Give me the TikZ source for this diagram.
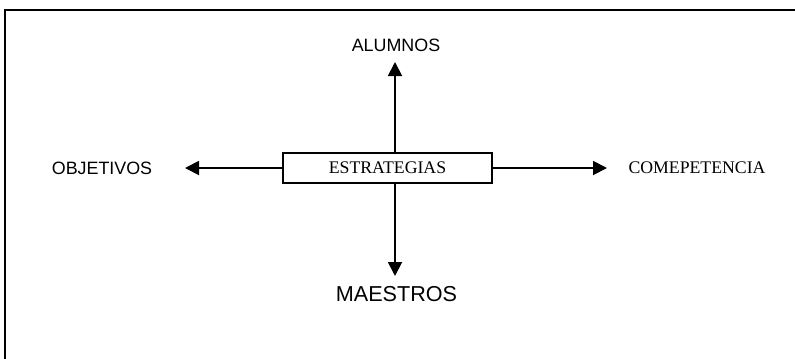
\documentclass[tikz,border=0pt]{standalone}
\usepackage{fontspec}
\setmainfont{Liberation Serif}
\setsansfont{Liberation Sans}
\usepackage{tikz}
\usetikzlibrary{arrows.meta,positioning}

\tikzset{
    marco/.style={line width=1.5pt},
    flecha/.style={line width=1.4pt, -{Triangle[length=10.5pt,width=10.5pt]}},
    etiqueta/.style={font=\sffamily\fontsize{13.4}{15}\selectfont, inner sep=0pt},
    serifa/.style={font=\rmfamily\fontsize{13.3}{15}\selectfont, inner sep=0pt}
}

\begin{document}
\begin{tikzpicture}[x=0.75pt, y=-0.75pt]
    \useasboundingbox (0,0) rectangle (795,358);

    % Frame (open to the right and bottom)
    \draw[marco] (5,360) -- (5,10) -- (797,10);

    % Central box
    \node[serifa, draw, line width=1.4pt, minimum width=156.75pt, minimum height=22.5pt] (estr) at (387.5,168) {ESTRATEGIAS};

    % Labels
    \node[etiqueta] (alum) at (396,45) {ALUMNOS};
    \node[etiqueta] (obj) at (102,168) {OBJETIVOS};
    \node[serifa] (comp) at (697,168) {COMEPETENCIA};
    \node[etiqueta, font=\sffamily\fontsize{16.2}{18}\selectfont] (maes) at (396.5,294) {MAESTROS};

    % Arrow tips
    \coordinate (eje) at (395,168);
    \coordinate (pA) at (395,62);
    \coordinate (pM) at (395,276);
    \coordinate (pO) at (185,168);
    \coordinate (pC) at (607,168);

    % Arrows
    \draw[flecha] (estr.north -| eje) -- (pA);
    \draw[flecha] (estr.south -| eje) -- (pM);
    \draw[flecha] (estr.west) -- (pO);
    \draw[flecha] (estr.east) -- (pC);
\end{tikzpicture}
\end{document}
